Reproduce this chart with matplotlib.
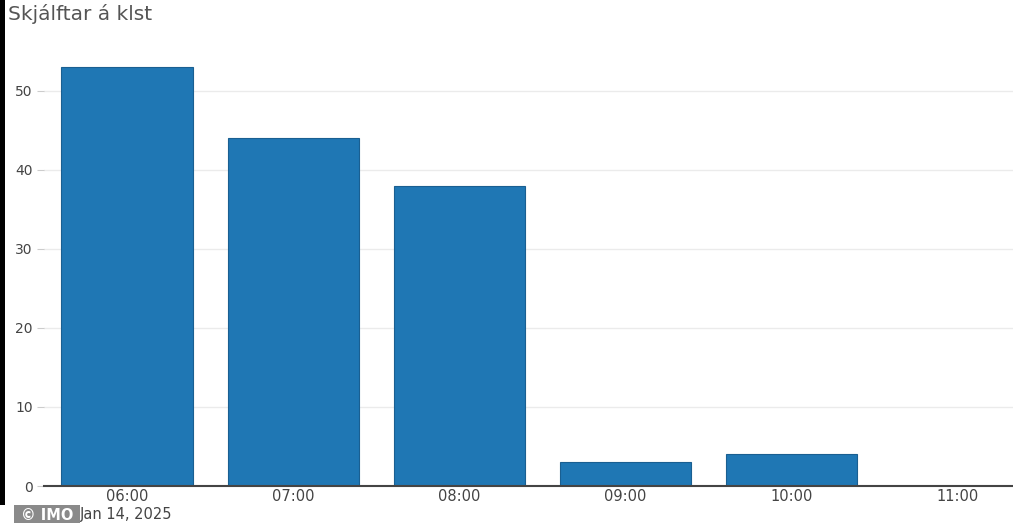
import matplotlib
matplotlib.use("Agg")
import matplotlib.pyplot as plt
from matplotlib.patches import Rectangle

hours = ["06:00", "07:00", "08:00", "09:00", "10:00", "11:00"]
counts = [53, 44, 38, 3, 4, 0]
y_ticks = [0, 10, 20, 30, 40, 50]

W, H = 1013, 523
fig = plt.figure(figsize=(W / 100, H / 100), dpi=100)
fig.patch.set_facecolor("white")

left_px, right_px = 44, 1041
bottom_px, top_px = 486, 45
ax = fig.add_axes([left_px / W, (H - bottom_px) / H, (right_px - left_px) / W, (bottom_px - top_px) / H])
x = list(range(len(hours)))
ax.bar(x, counts, width=0.79, color="#1f77b4", edgecolor="#1a5f91", linewidth=0.8, zorder=3)
ax.set_xlim(-0.5, 5.5)
ax.set_ylim(0, 55.8)
ax.set_yticks(y_ticks)
ax.set_yticklabels([str(t) for t in y_ticks], fontsize=10, color="#444444")
ax.set_xticks(x)
ax.set_xticklabels(hours, fontsize=10.5, color="#444444")
ax.tick_params(axis="x", length=0, pad=2)
ax.tick_params(axis="y", length=5, color="#cccccc", pad=3)
ax.grid(axis="y", color="#ebebeb", linewidth=1, zorder=0)
for s in ["top", "right", "left"]:
    ax.spines[s].set_visible(False)
ax.spines["bottom"].set_color("#444444")
ax.spines["bottom"].set_linewidth(1.5)
ax.spines["bottom"].set_zorder(4)
ax.set_facecolor("white")

fig.text(8 / W, 1 - 14 / H, "Skjálftar á klst", fontsize=14.5, color="#555555", va="center", ha="left")
fig.text(80 / W, 1 - 515 / H, "Jan 14, 2025", fontsize=10.5, color="#444444", va="center", ha="left")

# black strip on left edge
fig.patches.append(Rectangle((0, (H - 505) / H), 5 / W, 505 / H, transform=fig.transFigure,
                             facecolor="black", edgecolor="none", zorder=10))
# copyright box
fig.patches.append(Rectangle((14 / W, 0), 66 / W, 18 / H, transform=fig.transFigure,
                             facecolor="#8a8a8a", edgecolor="none", zorder=10))
fig.text(47 / W, 1 - 515 / H, "© IMO", fontsize=10.5, color="white", va="center", ha="center",
         fontweight="bold", zorder=11)

fig.savefig("out.png", dpi=100, facecolor="white")
